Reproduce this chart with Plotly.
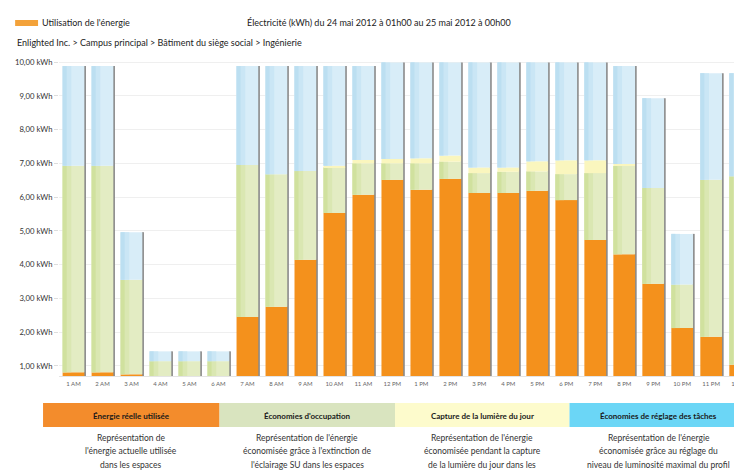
import numpy as np
import plotly.graph_objects as go

# ---------------- data ----------------
hours = ["1 AM", "2 AM", "3 AM", "4 AM", "5 AM", "6 AM", "7 AM", "8 AM", "9 AM", "10 AM",
         "11 AM", "12 PM", "1 PM", "2 PM", "3 PM", "4 PM", "5 PM", "6 PM", "7 PM", "8 PM",
         "9 PM", "10 PM", "11 PM", "12 AM"]

# kWh per hour
energy_used = [0.81, 0.81, 0.75, 0.70, 0.70, 0.70, 2.45, 2.75, 4.14, 5.53,
               6.07, 6.51, 6.22, 6.54, 6.12, 6.12, 6.19, 5.91, 4.73, 4.31,
               3.43, 2.12, 1.86, 1.04]
occupancy_savings = [6.12, 6.12, 2.80, 0.44, 0.44, 0.44, 4.50, 3.93, 2.63, 1.35,
                     0.93, 0.49, 0.78, 0.51, 0.59, 0.63, 0.57, 0.77, 1.98, 2.61,
                     2.84, 1.29, 4.65, 5.58]
daylight_savings = [0.00, 0.00, 0.00, 0.00, 0.00, 0.00, 0.00, 0.00, 0.00, 0.05,
                    0.10, 0.13, 0.15, 0.18, 0.17, 0.13, 0.30, 0.41, 0.38, 0.06,
                    0.00, 0.00, 0.00, 0.00]
task_tuning_savings = [2.95, 2.95, 1.41, 0.29, 0.29, 0.29, 2.93, 3.20, 3.11, 2.95,
                       2.78, 2.86, 2.84, 2.76, 3.11, 3.11, 2.93, 2.90, 2.90, 2.90,
                       2.66, 1.50, 3.16, 3.05]

y_tick_values = [1, 2, 3, 4, 5, 6, 7, 8, 9, 10]
y_tick_labels = ["1,00 kWh", "2,00 kWh", "3,00 kWh", "4,00 kWh", "5,00 kWh",
                 "6,00 kWh", "7,00 kWh", "8,00 kWh", "9,00 kWh", "10,00 kWh"]

legend_titles = ["Énergie réelle utilisée", "Économies d'occupation",
                 "Capture de la lumière du jour", "Économies de réglage des tâches"]
legend_descriptions = [
    ["Représentation de", "l'énergie actuelle utilisée", "dans les espaces", "sélectionnés."],
    ["Représentation de l'énergie", "économisée grâce à l'extinction de",
     "l'éclairage SU dans les espaces", "sélectionnés à l'état inoccupé."],
    ["Représentation de l'énergie", "économisée pendant la capture",
     "de la lumière du jour dans les", "espaces sélectionnés."],
    ["Représentation de l'énergie", "économisée grâce au réglage du",
     "niveau de luminosité maximal du profil", "dans les espaces sélectionnés."],
]

header_left = "Utilisation de l'énergie"
header_title = "Électricité (kWh) du 24 mai 2012 à 01h00 au 25 mai 2012 à 00h00"
header_path = "Enlighted Inc. > Campus principal > Bâtiment du siège social > Ingénierie"

# ---------------- styling ----------------
W, H = 742, 474
ML, MR, MT, MB = 51, 0, 50, 106
PW, PH = W - ML - MR, H - MT - MB

C_USED = "#F4911C"
C_OCC = "#E3ECC3"
C_OCC_DARK = "#D0E19E"
C_OCC_MID = "#DAE7B2"
C_DAY = "#FAF6BE"
C_TASK = "#D8EDF8"
C_TASK_DARK = "#BCDFF1"
C_TASK_MID = "#CAE6F5"
C_SHADOW = "#8A8A8A"

FONT = "Lato"


def px_x(px):
    return (px - ML) / PW


def px_y(py):
    return 1 - (py - MT) / PH


used = np.array(energy_used)
occ = np.array(occupancy_savings)
day = np.array(daylight_savings)
task = np.array(task_tuning_savings)
total = used + occ + day + task

BAR_W = 0.75
fig = go.Figure()

# grey shadow line on the right of each bar
fig.add_trace(go.Bar(x=hours, y=total, base=0, width=0.07, offset=0.36,
                     marker=dict(color=C_SHADOW, line=dict(width=0)), hoverinfo="skip"))

segments = [
    (used, np.zeros_like(used), C_USED, None, None),
    (occ, used, C_OCC, C_OCC_MID, C_OCC_DARK),
    (day, used + occ, C_DAY, None, None),
    (task, used + occ + day, C_TASK, C_TASK_MID, C_TASK_DARK),
]
for vals, base, col, mid, dark in segments:
    fig.add_trace(go.Bar(x=hours, y=vals, base=base, width=BAR_W, offset=-BAR_W / 2,
                         marker=dict(color=col, line=dict(width=0))))
    if mid is not None:
        # simulated left-side shading of the bar
        fig.add_trace(go.Bar(x=hours, y=vals, base=base, width=0.30, offset=-BAR_W / 2,
                             marker=dict(color=mid, line=dict(width=0)), hoverinfo="skip"))
        fig.add_trace(go.Bar(x=hours, y=vals, base=base, width=0.14, offset=-BAR_W / 2,
                             marker=dict(color=dark, line=dict(width=0)), hoverinfo="skip"))

shapes = []
annotations = []

# header swatch
shapes.append(dict(type="rect", xref="paper", yref="paper",
                   x0=px_x(7), x1=px_x(30), y0=px_y(12), y1=px_y(18),
                   fillcolor="#F3A23A", line=dict(width=0), layer="above"))
annotations.append(dict(text=header_left, xref="paper", yref="paper", x=px_x(32), y=px_y(15),
                        xanchor="left", yanchor="middle", showarrow=False,
                        font=dict(family=FONT, size=9, color="#222")))
annotations.append(dict(text=header_title, xref="paper", yref="paper", x=px_x(238), y=px_y(15),
                        xanchor="left", yanchor="middle", showarrow=False,
                        font=dict(family=FONT, size=9, color="#222")))
annotations.append(dict(text=header_path, xref="paper", yref="paper", x=px_x(7), y=px_y(35),
                        xanchor="left", yanchor="middle", showarrow=False,
                        font=dict(family=FONT, size=9, color="#222")))

# legend boxes
box_edges = [35, 212, 388, 563, 742]
box_colors = ["#F38C2C", "#D9E4BF", "#FDFBCC", "#6BD6F6"]
for i in range(4):
    x0, x1 = box_edges[i], box_edges[i + 1]
    shapes.append(dict(type="rect", xref="paper", yref="paper",
                       x0=px_x(x0), x1=px_x(x1), y0=px_y(395), y1=px_y(419),
                       fillcolor=box_colors[i], line=dict(width=0)))
    cx = (x0 + x1) / 2
    annotations.append(dict(text="<b>" + legend_titles[i] + "</b>", xref="paper", yref="paper",
                            x=px_x(cx), y=px_y(408), xanchor="center", yanchor="middle",
                            showarrow=False, font=dict(family=FONT, size=8, color="#1a1a1a")))
    for j, line in enumerate(legend_descriptions[i]):
        annotations.append(dict(text=line, xref="paper", yref="paper",
                                x=px_x(cx), y=px_y(430 + 13.3 * j), xanchor="center",
                                yanchor="middle", showarrow=False,
                                font=dict(family=FONT, size=8.5, color="#333")))

fig.update_layout(
    width=W, height=H,
    margin=dict(l=ML, r=MR, t=MT, b=MB, pad=0),
    paper_bgcolor="white", plot_bgcolor="white",
    barmode="overlay", showlegend=False,
    shapes=shapes, annotations=annotations,
    xaxis=dict(range=[-0.5, 23.27], tickfont=dict(family=FONT, size=6, color="#666"),
               ticks="outside", ticklen=2, tickcolor="white", showgrid=False,
               showline=True, linecolor="#e4e4e4", linewidth=1, fixedrange=True),
    yaxis=dict(range=[0.70, 10.12], tickvals=y_tick_values, ticktext=y_tick_labels,
               tickfont=dict(family=FONT, size=7.7, color="#333"),
               ticks="outside", ticklen=4, tickcolor="#dddddd",
               showgrid=True, gridcolor="#efefef", zeroline=False, showline=False,
               fixedrange=True),
)

fig.write_html("out.html")
